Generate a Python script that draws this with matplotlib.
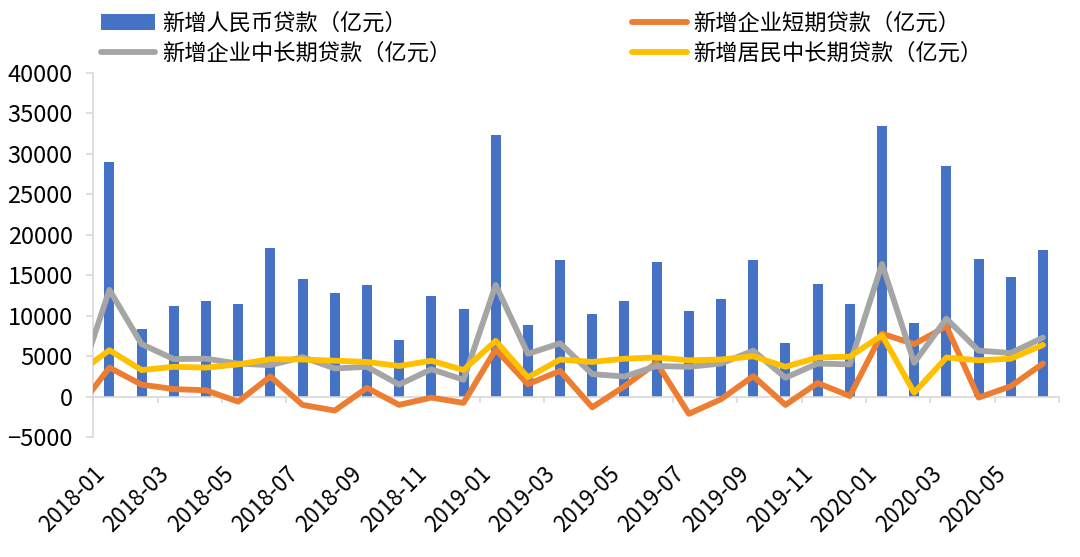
import matplotlib
matplotlib.use("Agg")
import matplotlib.pyplot as plt
from matplotlib.patches import Patch
from matplotlib.lines import Line2D
import numpy as np

plt.rcParams['font.family'] = ['Noto Sans CJK SC', 'DejaVu Sans']

# ---------------- data (亿元) ----------------
months = ['2018-01', '2018-02', '2018-03', '2018-04', '2018-05', '2018-06',
          '2018-07', '2018-08', '2018-09', '2018-10', '2018-11', '2018-12',
          '2019-01', '2019-02', '2019-03', '2019-04', '2019-05', '2019-06',
          '2019-07', '2019-08', '2019-09', '2019-10', '2019-11', '2019-12',
          '2020-01', '2020-02', '2020-03', '2020-04', '2020-05', '2020-06']

new_loans = [29000, 8393, 11200, 11800, 11500, 18400, 14500, 12800, 13800, 6970, 12500, 10800,
             32300, 8858, 16900, 10200, 11800, 16600, 10600, 12100, 16900, 6613, 13900, 11400,
             33400, 9057, 28500, 17000, 14800, 18100]

# line series start one month earlier (2017-12), clipped at the left edge
line_months = ['2017-12'] + months
corp_short = [-1600, 3600, 1500, 950, 800, -600, 2500, -1000, -1700, 1100, -1000, -100, -750,
              5850, 1550, 3200, -1300, 1300, 4200, -2100, -300, 2550, -1000, 1700, 100,
              7800, 6500, 8700, -100, 1300, 4100]
corp_mid_long = [1200, 13200, 6500, 4650, 4700, 4100, 3900, 4900, 3500, 3700, 1500, 3400, 2100,
                 13800, 5300, 6600, 2800, 2500, 3800, 3700, 4100, 5700, 2350, 4100, 4000,
                 16400, 4200, 9650, 5700, 5400, 7300]
house_mid_long = [2850, 5750, 3300, 3700, 3600, 4000, 4650, 4600, 4450, 4300, 3800, 4450, 3300,
                  6900, 2400, 4600, 4300, 4700, 4850, 4500, 4600, 5000, 3700, 4850, 4950,
                  7600, 500, 4850, 4500, 4700, 6400]

labels = ['新增人民币贷款（亿元）', '新增企业短期贷款（亿元）',
          '新增企业中长期贷款（亿元）', '新增居民中长期贷款（亿元）']
colors = ['#4472C4', '#ED7D31', '#A5A5A5', '#FFC000']

# ---------------- figure ----------------
fig = plt.figure(figsize=(10.8, 5.57), dpi=100)
ax = fig.add_axes([0.0864, 0.2149, 0.9806 - 0.0864, 0.8695 - 0.2149])

x = np.arange(len(months))
xl = np.arange(-1, len(months))

ax.bar(x, new_loans, width=0.31, color=colors[0], zorder=2)
lw = 4.2
line_kw = dict(linewidth=lw, solid_joinstyle='round', solid_capstyle='round', zorder=3)
ax.plot(xl, corp_short, color=colors[1], **line_kw)
ax.plot(xl, corp_mid_long, color=colors[2], **line_kw)
ax.plot(xl, house_mid_long, color=colors[3], **line_kw)

ax.set_xlim(-0.5, len(months) - 0.5)
ax.set_ylim(-5000, 40000)
ax.set_yticks(np.arange(-5000, 40001, 5000))

grey = '#D9D9D9'
for s in ['top', 'right']:
    ax.spines[s].set_visible(False)
ax.spines['left'].set_color(grey)
ax.spines['left'].set_linewidth(1.2)
ax.spines['bottom'].set_position(('data', 0))
ax.spines['bottom'].set_color(grey)
ax.spines['bottom'].set_linewidth(1.2)
ax.spines['bottom'].set_zorder(2.5)

ax.tick_params(axis='y', length=4.8, width=1.2, color=grey, labelsize=17, pad=10)
ax.set_xticks(np.arange(-0.5, len(months), 2))
ax.tick_params(axis='x', length=4.5, width=1.2, color=grey, labelbottom=False)

sec = ax.secondary_xaxis(0)
sec.set_xticks(x[::2], labels=months[::2])
sec.tick_params(length=0, pad=18, labelsize=16)
sec.spines['bottom'].set_visible(False)
for t in sec.get_xticklabels():
    t.set_rotation(45)
    t.set_ha('right')
    t.set_va('top')

handles = [Patch(facecolor=colors[0]),
           Line2D([], [], color=colors[2], linewidth=lw, solid_capstyle='round'),
           Line2D([], [], color=colors[1], linewidth=lw, solid_capstyle='round'),
           Line2D([], [], color=colors[3], linewidth=lw, solid_capstyle='round')]
fig.legend(handles, [labels[0], labels[2], labels[1], labels[3]],
           ncol=2, loc='upper left', bbox_to_anchor=(101.0 / 1080, 1 - 12 / 557),
           bbox_transform=fig.transFigure, frameon=False, fontsize=16,
           handlelength=2.45, handletextpad=0.3, columnspacing=8.15,
           labelspacing=0.3, borderpad=0, borderaxespad=0)

fig.savefig('out.png', dpi=100)
